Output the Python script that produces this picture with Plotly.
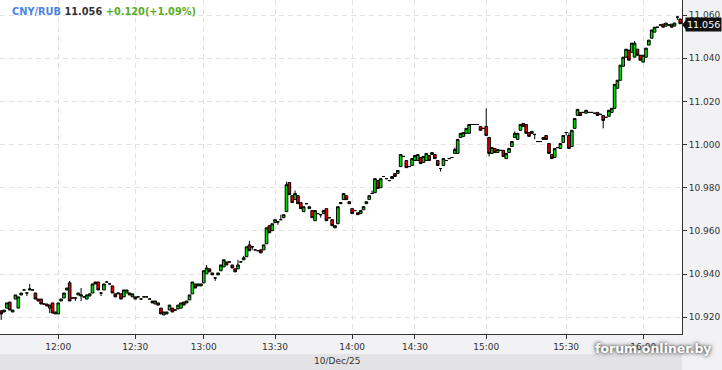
import plotly.graph_objects as go

symbol = "CNY/RUB"
last_price = 11.056
change = 0.120
change_pct = 1.09
date_label = "10/Dec/25"

tick_index = [20, 47, 71, 96, 123, 145, 170, 198, 225]
tick_labels = ["12:00", "12:30", "13:00", "13:30", "14:00", "14:30", "15:00", "15:30", "16:00"]
price_ticks = [10.92, 10.94, 10.96, 10.98, 11.00, 11.02, 11.04, 11.06]

opens = [
    10.9229, 10.9224, 10.9242, 10.9270, 10.9224, 10.9284, 10.9242, 10.9303, 10.9326, 10.9312,
    10.9326, 10.9326, 10.9312, 10.9284, 10.9284, 10.9261, 10.9261, 10.9242, 10.9266, 10.9215,
    10.9215, 10.9275, 10.9289, 10.9326, 10.9359, 10.9289, 10.9289, 10.9303, 10.9298, 10.9294,
    10.9284, 10.9298, 10.9312, 10.9363, 10.9363, 10.9312, 10.9326, 10.9363, 10.9354, 10.9345,
    10.9308, 10.9308, 10.9308, 10.9294, 10.9312, 10.9312, 10.9294, 10.9294, 10.9294, 10.9284,
    10.9294, 10.9294, 10.9284, 10.9275, 10.9261, 10.9266, 10.9242, 10.9210, 10.9215, 10.9233,
    10.9242, 10.9233, 10.9238, 10.9242, 10.9270, 10.9266, 10.9280, 10.9308, 10.9354, 10.9345,
    10.9345, 10.9359, 10.9401, 10.9424, 10.9405, 10.9382, 10.9396, 10.9415, 10.9433, 10.9456,
    10.9456, 10.9442, 10.9424, 10.9424, 10.9456, 10.9466, 10.9480, 10.9535, 10.9526, 10.9512,
    10.9508, 10.9512, 10.9512, 10.9540, 10.9624, 10.9601, 10.9638, 10.9642, 10.9652, 10.9661,
    10.9689, 10.9824, 10.9763, 10.9745, 10.9763, 10.9731, 10.9689, 10.9726, 10.9712, 10.9694,
    10.9647, 10.9680, 10.9675, 10.9680, 10.9703, 10.9661, 10.9652, 10.9614, 10.9633, 10.9726,
    10.9745, 10.9763, 10.9735, 10.9703, 10.9694, 10.9684, 10.9680, 10.9698, 10.9726, 10.9745,
    10.9773, 10.9777, 10.9833, 10.9800, 10.9852, 10.9842, 10.9833, 10.9842, 10.9866, 10.9866,
    10.9898, 10.9945, 10.9926, 10.9898, 10.9903, 10.9926, 10.9926, 10.9940, 10.9917, 10.9926,
    10.9949, 10.9954, 10.9954, 10.9926, 10.9889, 10.9903, 10.9926, 10.9935, 10.9940, 10.9959,
    10.9959, 11.0033, 11.0038, 11.0052, 11.0052, 11.0093, 11.0093, 11.0093, 11.0084, 11.0075,
    11.0084, 11.0033, 10.9959, 10.9982, 10.9963, 10.9973, 10.9973, 10.9935, 10.9963, 10.9991,
    11.0033, 11.0024, 11.0066, 11.0098, 11.0093, 11.0056, 11.0052, 11.0047, 11.0014, 11.0014,
    11.0024, 11.0042, 11.0005, 10.9954, 10.9940, 10.9986, 10.9982, 11.0010, 11.0056, 11.0042,
    10.9991, 11.0075, 11.0135, 11.0149, 11.0149, 11.0145, 11.0149, 11.0149, 11.0145, 11.0149,
    11.0140, 11.0135, 11.0126, 11.0131, 11.0149, 11.0168, 11.0261, 11.0298, 11.0363, 11.0405,
    11.0438, 11.0428, 11.0405, 11.0442, 11.0414, 11.0382, 11.0405, 11.0461, 11.0493, 11.0521,
    11.0544, 11.0554, 11.0558, 11.0549, 11.0554, 11.0558, 11.0549, 11.0591, 11.0582,
]

closes = [
    10.9215, 10.9233, 10.9266, 10.9233, 10.9233, 10.9303, 10.9294, 10.9312, 10.9326, 10.9312,
    10.9331, 10.9326, 10.9284, 10.9275, 10.9261, 10.9261, 10.9252, 10.9256, 10.9219, 10.9224,
    10.9266, 10.9284, 10.9312, 10.9335, 10.9275, 10.9289, 10.9289, 10.9312, 10.9303, 10.9294,
    10.9303, 10.9308, 10.9354, 10.9354, 10.9326, 10.9312, 10.9354, 10.9363, 10.9354, 10.9312,
    10.9294, 10.9312, 10.9284, 10.9326, 10.9326, 10.9303, 10.9308, 10.9284, 10.9294, 10.9284,
    10.9294, 10.9294, 10.9284, 10.9266, 10.9275, 10.9256, 10.9215, 10.9224, 10.9224, 10.9256,
    10.9224, 10.9233, 10.9256, 10.9266, 10.9256, 10.9275, 10.9303, 10.9363, 10.9335, 10.9354,
    10.9354, 10.9415, 10.9428, 10.9410, 10.9396, 10.9382, 10.9405, 10.9442, 10.9466, 10.9442,
    10.9456, 10.9428, 10.9410, 10.9442, 10.9456, 10.9475, 10.9526, 10.9508, 10.9526, 10.9512,
    10.9508, 10.9498, 10.9535, 10.9614, 10.9591, 10.9633, 10.9652, 10.9642, 10.9652, 10.9675,
    10.9814, 10.9768, 10.9731, 10.9773, 10.9726, 10.9703, 10.9712, 10.9726, 10.9703, 10.9661,
    10.9694, 10.9680, 10.9675, 10.9694, 10.9647, 10.9661, 10.9624, 10.9624, 10.9712, 10.9731,
    10.9773, 10.9745, 10.9726, 10.9680, 10.9694, 10.9675, 10.9694, 10.9712, 10.9735, 10.9763,
    10.9773, 10.9842, 10.9796, 10.9842, 10.9852, 10.9842, 10.9833, 10.9852, 10.9852, 10.9880,
    10.9954, 10.9945, 10.9893, 10.9898, 10.9935, 10.9949, 10.9954, 10.9912, 10.9945, 10.9959,
    10.9926, 10.9963, 10.9935, 10.9903, 10.9889, 10.9935, 10.9926, 10.9935, 10.9940, 10.9977,
    11.0024, 11.0052, 11.0056, 11.0075, 11.0093, 11.0093, 11.0093, 11.0093, 11.0066, 11.0075,
    11.0042, 10.9959, 10.9986, 10.9963, 10.9977, 10.9973, 10.9945, 10.9959, 10.9982, 11.0014,
    11.0052, 11.0052, 11.0093, 11.0084, 11.0052, 11.0038, 11.0061, 11.0047, 11.0014, 11.0014,
    11.0033, 11.0024, 10.9959, 10.9935, 10.9982, 10.9986, 11.0005, 11.0042, 11.0056, 10.9982,
    11.0066, 11.0121, 11.0163, 11.0135, 11.0149, 11.0159, 11.0149, 11.0149, 11.0145, 11.0135,
    11.0140, 11.0112, 11.0126, 11.0159, 11.0168, 11.0279, 11.0298, 11.0368, 11.0405, 11.0442,
    11.0391, 11.0470, 11.0470, 11.0414, 11.0391, 11.0414, 11.0447, 11.0484, 11.0531, 11.0544,
    11.0544, 11.0554, 11.0544, 11.0563, 11.0554, 11.0544, 11.0563, 11.0591, 11.0560,
]

highs = [
    10.9233, 10.9233, 10.9266, 10.9270, 10.9233, 10.9303, 10.9294, 10.9312, 10.9326, 10.9312,
    10.9354, 10.9326, 10.9312, 10.9284, 10.9284, 10.9261, 10.9261, 10.9256, 10.9266, 10.9224,
    10.9266, 10.9284, 10.9312, 10.9335, 10.9368, 10.9289, 10.9289, 10.9312, 10.9335, 10.9294,
    10.9303, 10.9308, 10.9354, 10.9363, 10.9363, 10.9312, 10.9354, 10.9363, 10.9354, 10.9345,
    10.9308, 10.9312, 10.9308, 10.9326, 10.9326, 10.9312, 10.9308, 10.9294, 10.9294, 10.9284,
    10.9294, 10.9294, 10.9284, 10.9275, 10.9275, 10.9266, 10.9242, 10.9224, 10.9224, 10.9256,
    10.9242, 10.9233, 10.9256, 10.9266, 10.9270, 10.9275, 10.9303, 10.9363, 10.9354, 10.9354,
    10.9354, 10.9415, 10.9442, 10.9424, 10.9405, 10.9382, 10.9405, 10.9442, 10.9466, 10.9456,
    10.9456, 10.9442, 10.9424, 10.9466, 10.9456, 10.9484, 10.9526, 10.9554, 10.9526, 10.9512,
    10.9508, 10.9512, 10.9535, 10.9614, 10.9624, 10.9633, 10.9652, 10.9642, 10.9675, 10.9675,
    10.9828, 10.9824, 10.9763, 10.9787, 10.9763, 10.9731, 10.9712, 10.9726, 10.9712, 10.9694,
    10.9694, 10.9680, 10.9675, 10.9694, 10.9703, 10.9661, 10.9652, 10.9624, 10.9712, 10.9731,
    10.9773, 10.9763, 10.9735, 10.9703, 10.9694, 10.9684, 10.9694, 10.9712, 10.9735, 10.9763,
    10.9787, 10.9842, 10.9833, 10.9842, 10.9852, 10.9842, 10.9833, 10.9852, 10.9866, 10.9880,
    10.9954, 10.9945, 10.9926, 10.9898, 10.9935, 10.9949, 10.9954, 10.9940, 10.9945, 10.9959,
    10.9949, 10.9963, 10.9954, 10.9926, 10.9889, 10.9935, 10.9926, 10.9935, 10.9940, 10.9986,
    11.0024, 11.0052, 11.0056, 11.0075, 11.0093, 11.0093, 11.0093, 11.0093, 11.0084, 11.0075,
    11.0168, 11.0033, 10.9986, 10.9982, 10.9977, 10.9973, 10.9973, 10.9959, 10.9982, 11.0014,
    11.0061, 11.0052, 11.0093, 11.0098, 11.0093, 11.0056, 11.0061, 11.0047, 11.0014, 11.0014,
    11.0033, 11.0042, 11.0005, 10.9954, 10.9982, 10.9986, 11.0005, 11.0042, 11.0056, 11.0056,
    11.0066, 11.0121, 11.0163, 11.0149, 11.0149, 11.0159, 11.0149, 11.0149, 11.0145, 11.0149,
    11.0140, 11.0135, 11.0126, 11.0159, 11.0168, 11.0279, 11.0298, 11.0368, 11.0405, 11.0442,
    11.0438, 11.0470, 11.0479, 11.0442, 11.0414, 11.0414, 11.0447, 11.0484, 11.0531, 11.0544,
    11.0544, 11.0554, 11.0558, 11.0563, 11.0554, 11.0558, 11.0563, 11.0591, 11.0582,
]

lows = [
    10.9187, 10.9224, 10.9242, 10.9233, 10.9224, 10.9284, 10.9242, 10.9303, 10.9326, 10.9298,
    10.9326, 10.9326, 10.9284, 10.9275, 10.9261, 10.9261, 10.9252, 10.9219, 10.9219, 10.9215,
    10.9215, 10.9275, 10.9289, 10.9326, 10.9275, 10.9289, 10.9275, 10.9303, 10.9275, 10.9294,
    10.9284, 10.9298, 10.9312, 10.9354, 10.9326, 10.9298, 10.9326, 10.9363, 10.9354, 10.9312,
    10.9294, 10.9308, 10.9284, 10.9294, 10.9312, 10.9303, 10.9294, 10.9284, 10.9294, 10.9284,
    10.9294, 10.9294, 10.9284, 10.9266, 10.9261, 10.9256, 10.9215, 10.9210, 10.9215, 10.9233,
    10.9224, 10.9233, 10.9238, 10.9242, 10.9256, 10.9266, 10.9280, 10.9308, 10.9335, 10.9345,
    10.9345, 10.9359, 10.9401, 10.9410, 10.9396, 10.9368, 10.9396, 10.9415, 10.9433, 10.9442,
    10.9456, 10.9428, 10.9410, 10.9424, 10.9456, 10.9466, 10.9480, 10.9508, 10.9512, 10.9512,
    10.9508, 10.9498, 10.9512, 10.9540, 10.9591, 10.9601, 10.9638, 10.9628, 10.9652, 10.9661,
    10.9689, 10.9768, 10.9731, 10.9745, 10.9726, 10.9703, 10.9689, 10.9726, 10.9703, 10.9661,
    10.9647, 10.9680, 10.9661, 10.9680, 10.9647, 10.9661, 10.9624, 10.9614, 10.9633, 10.9726,
    10.9745, 10.9745, 10.9726, 10.9680, 10.9694, 10.9675, 10.9680, 10.9698, 10.9726, 10.9745,
    10.9773, 10.9777, 10.9796, 10.9800, 10.9852, 10.9842, 10.9833, 10.9842, 10.9852, 10.9866,
    10.9898, 10.9945, 10.9893, 10.9898, 10.9903, 10.9926, 10.9926, 10.9912, 10.9917, 10.9926,
    10.9926, 10.9954, 10.9935, 10.9903, 10.9875, 10.9903, 10.9926, 10.9935, 10.9940, 10.9959,
    10.9959, 11.0033, 11.0038, 11.0052, 11.0052, 11.0093, 11.0093, 11.0093, 11.0066, 11.0075,
    11.0042, 10.9945, 10.9959, 10.9963, 10.9963, 10.9973, 10.9945, 10.9935, 10.9963, 10.9991,
    11.0033, 11.0024, 11.0066, 11.0084, 11.0052, 11.0038, 11.0052, 11.0024, 11.0014, 11.0014,
    11.0024, 11.0024, 10.9959, 10.9935, 10.9940, 10.9986, 10.9982, 11.0010, 11.0042, 10.9982,
    10.9991, 11.0075, 11.0135, 11.0135, 11.0149, 11.0145, 11.0149, 11.0149, 11.0145, 11.0135,
    11.0140, 11.0075, 11.0126, 11.0131, 11.0149, 11.0168, 11.0261, 11.0298, 11.0363, 11.0405,
    11.0391, 11.0428, 11.0405, 11.0414, 11.0391, 11.0382, 11.0405, 11.0461, 11.0493, 11.0521,
    11.0544, 11.0554, 11.0544, 11.0549, 11.0554, 11.0544, 11.0549, 11.0577, 11.0560,
]

assert len(opens) == len(closes) == len(highs) == len(lows)

x_index = list(range(len(closes)))

Y_MIN, Y_MAX = 10.9122, 11.067
FONT = "DejaVu Sans"

fig = go.Figure(
    go.Candlestick(
        x=x_index, open=opens, high=highs, low=lows, close=closes,
        increasing=dict(line=dict(color="#000000", width=1), fillcolor="#00dc00"),
        decreasing=dict(line=dict(color="#000000", width=1), fillcolor="#e00000"),
        whiskerwidth=0, hoverinfo="skip", showlegend=False,
    )
)

fig.update_layout(
    width=722, height=370,
    margin=dict(l=0, r=40, t=0, b=36),
    paper_bgcolor="#f2f2f4", plot_bgcolor="#ffffff",
    showlegend=False, boxgap=0.08, boxgroupgap=0,
    font=dict(family=FONT, size=9, color="#333333"),
)

fig.update_xaxes(
    range=[-0.42, len(closes) - 0.38],
    tickmode="array", tickvals=tick_index, ticktext=tick_labels,
    ticks="outside", ticklen=4, tickcolor="#333333",
    showline=True, linecolor="#333333", linewidth=1,
    showgrid=True, gridcolor="#e2e2e2", gridwidth=1, griddash="5px,4px",
    zeroline=False, rangeslider=dict(visible=False),
    tickfont=dict(family=FONT, size=9, color="#333333"),
)
fig.update_yaxes(
    side="right", range=[Y_MIN, Y_MAX],
    tickmode="array", tickvals=price_ticks, tickformat=".3f",
    ticks="outside", ticklen=4, tickcolor="#333333",
    showline=True, linecolor="#333333", linewidth=1,
    showgrid=True, gridcolor="#e2e2e2", gridwidth=1, griddash="5px,4px",
    zeroline=False,
    tickfont=dict(family=FONT, size=9, color="#333333"),
)

# date band under the time axis
fig.add_shape(type="rect", xref="paper", yref="paper",
              x0=0, x1=1, y0=-36 / 334, y1=-20 / 334,
              fillcolor="#e3e3e5", line=dict(width=0), layer="below")

# title
sign = "+" if change >= 0 else "-"
title_html = (
    f"<b><span style='color:#4a84e6'>{symbol}</span> "
    f"<span style='color:#333333'>{last_price:.3f}</span> "
    f"<span style='color:#58ad26'>{sign}{abs(change):.3f}({sign}{abs(change_pct):.2f}%)</span></b>"
)
fig.add_annotation(text=title_html, xref="paper", yref="paper",
                   x=10 / 682, y=1 - 12 / 334, xanchor="left", yanchor="middle",
                   showarrow=False, font=dict(family=FONT, size=9.8))

# date label
fig.add_annotation(text=date_label, xref="paper", yref="paper",
                   x=337 / 682, y=-27 / 334, xanchor="center", yanchor="middle",
                   showarrow=False, font=dict(family=FONT, size=9, color="#333333"))

# last price marker on the right axis
frac = (last_price - Y_MIN) / (Y_MAX - Y_MIN)
fig.add_annotation(text=f"{last_price:.3f}", xref="paper", yref="paper",
                   x=1, xshift=3, y=frac, yshift=-1, xanchor="left", yanchor="middle",
                   showarrow=False, bgcolor="#111111", borderpad=1,
                   font=dict(family=FONT, size=9.5, color="#ffffff"))
dy = 5 / 334
fig.add_shape(type="path", xref="paper", yref="paper",
              path=f"M 1.0005 {frac - 1/334} L 1.006 {frac - 1/334 + dy} L 1.006 {frac - 1/334 - dy} Z",
              fillcolor="#111111", line=dict(width=0))

# watermark
fig.add_annotation(text="<b>forum.onliner.by</b>", xref="paper", yref="paper",
                   x=653 / 682, y=-14 / 334, xanchor="center", yanchor="middle",
                   showarrow=False,
                   font=dict(family=FONT, size=12.5, color="#ffffff",
                             shadow="0px 0px 3px #444444, 0px 0px 5px #666666"))

fig.write_html("out.html")
